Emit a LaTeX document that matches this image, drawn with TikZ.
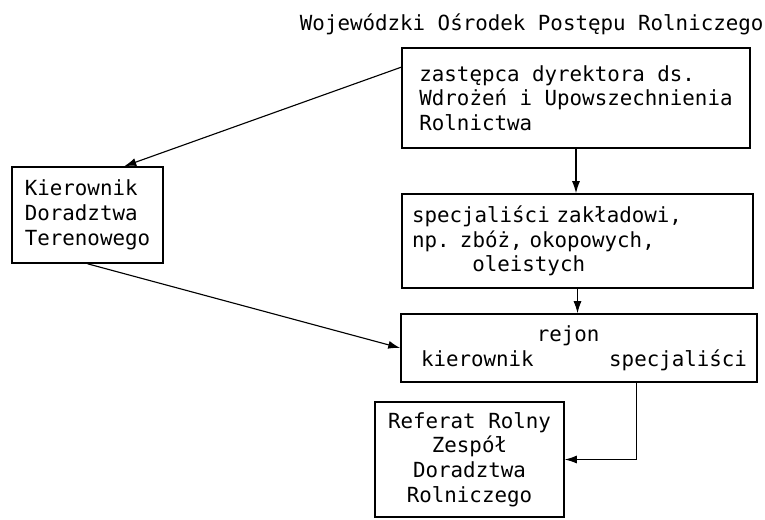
\documentclass[tikz,border=0pt]{standalone}
\usepackage{fontspec}
\setmonofont{DejaVu Sans Mono}
\usetikzlibrary{arrows.meta}

\begin{document}
\begin{tikzpicture}[
  font=\ttfamily\fontsize{14.8pt}{17.6pt}\selectfont,
  box/.style={draw, line width=1.1pt, inner sep=0pt, align=left},
  conn/.style={line width=0.8pt, -{Latex[length=3mm,width=2mm]}}]
\useasboundingbox (0,0) rectangle (19.125,-12.975);
\node[anchor=base west] (title) at (7.375,-0.75) {Wojewódzki Ośrodek Postępu Rolniczego};
\node[box, minimum width=8.7cm, minimum height=2.5cm] (zast) at (14.4,-2.45)
  {zastępca dyrektora ds.\\Wdrożeń i Upowszechnienia\\Rolnictwa};
\node[box, minimum width=3.775cm, minimum height=2.4cm] (kier) at (2.1875,-5.375)
  {Kierownik\\Doradztwa\\Terenowego};
\node[box, minimum width=8.775cm, minimum height=2.35cm, text width=8.275cm] (spec) at (14.4375,-6.025)
  {specjaliści zakładowi,\\np. zbóż, okopowych,\\\hspace*{2.9em}oleistych};
\node[box, minimum width=8.9cm, minimum height=1.7cm, text width=8.4cm] (rejon) at (14.475,-8.7)
  {\hspace*{6.05em}rejon\\\hspace*{0.25cm}kierownik\hskip 0pt plus 1filll specjaliści};
\node[box, align=center, minimum width=4.725cm, minimum height=2.875cm] (ref) at (11.7375,-11.4875)
  {Referat Rolny\\Zespół\\Doradztwa\\Rolniczego};

\draw[conn] (zast.170) -- (kier.53);
\draw[conn] (zast.south) -- (zast.south |- spec.north);
\draw[conn] (spec.south) -- (spec.south |- rejon.north);
\draw[conn] (kier.south) -- (rejon.west);
\draw[conn] (rejon.-31) |- (ref.east);
\end{tikzpicture}
\end{document}
